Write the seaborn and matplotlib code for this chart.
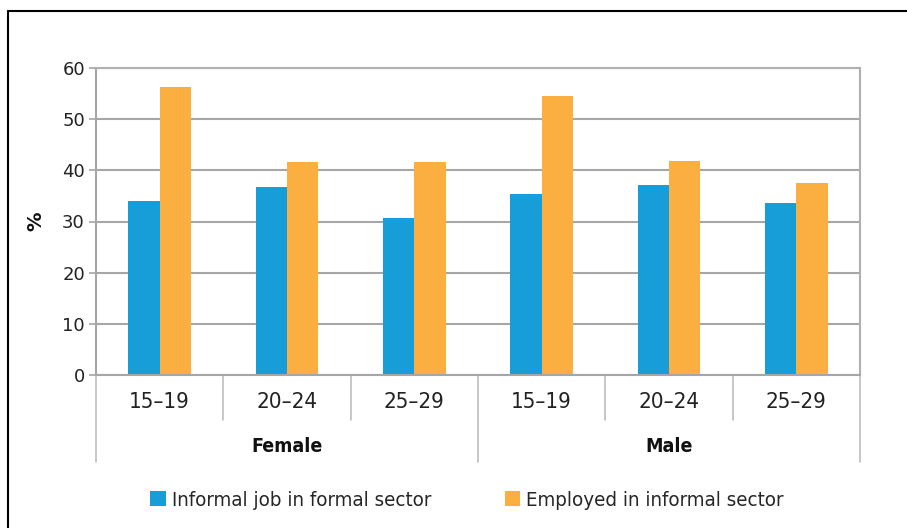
import matplotlib
matplotlib.use("Agg")
import matplotlib.pyplot as plt
import seaborn as sns
import pandas as pd
from matplotlib.lines import Line2D
from matplotlib.patches import Patch

groups = ["Female", "Male"]
ages = ["15–19", "20–24", "25–29"]
series = ["Informal job in formal sector", "Employed in informal sector"]
informal_formal = [34.0, 36.7, 30.7, 35.4, 37.1, 33.6]
employed_informal = [56.3, 41.6, 41.6, 54.5, 41.8, 37.5]
yticks = [0, 10, 20, 30, 40, 50, 60]
colors = ["#179dd8", "#fbaf40"]

cats = [f"{g}|{a}" for g in groups for a in ages]
df = pd.DataFrame({
    "cat": cats * 2,
    "series": [series[0]] * 6 + [series[1]] * 6,
    "value": informal_formal + employed_informal,
})

sns.set_theme(style="white")
plt.rcParams["font.family"] = ["DejaVu Sans"]
COND = dict(family=["DejaVu Sans"], stretch="condensed")

fig = plt.figure(figsize=(9.07, 5.28), dpi=100)
W, H = 907, 528
left, right, top, bottom = 96, 860, 68, 375
ax = fig.add_axes([left / W, 1 - bottom / H, (right - left) / W, (bottom - top) / H])

sns.barplot(data=df, x="cat", y="value", hue="series", order=cats,
            hue_order=series, palette=colors, width=0.49, saturation=1,
            ax=ax, legend=False, linewidth=0)

ax.set_ylim(0, 60)
ax.set_xlim(-0.5, 5.5)
ax.set_yticks(yticks)
ax.set_yticklabels([str(v) for v in yticks], fontsize=13, color="#222222")
ax.set_xticks([])
ax.set_xlabel("")
ax.set_ylabel("%", fontsize=14, fontweight="bold", color="#111111")
ax.yaxis.set_label_coords((45 - left) / (right - left), 0.5)
ax.grid(axis="y", color="#a6a6a6", linewidth=1.5)
ax.set_axisbelow(True)
for s in ax.spines.values():
    s.set_color("#b0b0b0")
    s.set_linewidth(1.5)
ax.spines["left"].set_color("#a6a6a6")
ax.spines["bottom"].set_color("#a6a6a6")
ax.tick_params(axis="y", length=5, width=1.2, color="#a6a6a6", pad=3, left=True)

trans = ax.get_xaxis_transform()
ph = bottom - top
sep_short = -45 / ph
sep_long = -87 / ph
for i in range(7):
    x = i - 0.5
    y2 = sep_long if i in (0, 3, 6) else sep_short
    ax.add_line(Line2D([x, x], [0, y2], transform=trans, color="#b8b8b8",
                       linewidth=1.1, clip_on=False))
for i, c in enumerate(cats):
    ax.text(i, -27 / ph, c.split("|")[1], transform=trans,
            ha="center", va="center", fontsize=16, color="#222222", **COND)
for j, g in enumerate(groups):
    ax.text(j * 3 + 1, -71 / ph, g, transform=trans,
            ha="center", va="center", fontsize=14, fontweight="bold",
            color="#111111", **COND)

handles = [Patch(facecolor=colors[0], edgecolor="none"),
           Patch(facecolor=colors[1], edgecolor="none")]
fig.legend(handles, series, loc="center", bbox_to_anchor=(467 / W, 1 - 500 / H),
           ncol=2, frameon=False,
           prop={"family": ["DejaVu Sans"], "stretch": "condensed", "size": 14.7},
           handlelength=0.75, handleheight=0.75, handletextpad=0.3, columnspacing=3.6)

# outer frame (left and top edges visible)
fig.add_artist(Line2D([8 / W, 8 / W], [0, 1 - 11 / H], transform=fig.transFigure,
                      color="black", linewidth=1.5))
fig.add_artist(Line2D([8 / W, 1], [1 - 11 / H, 1 - 11 / H], transform=fig.transFigure,
                      color="black", linewidth=1.5))

fig.savefig("out.png", dpi=100)
